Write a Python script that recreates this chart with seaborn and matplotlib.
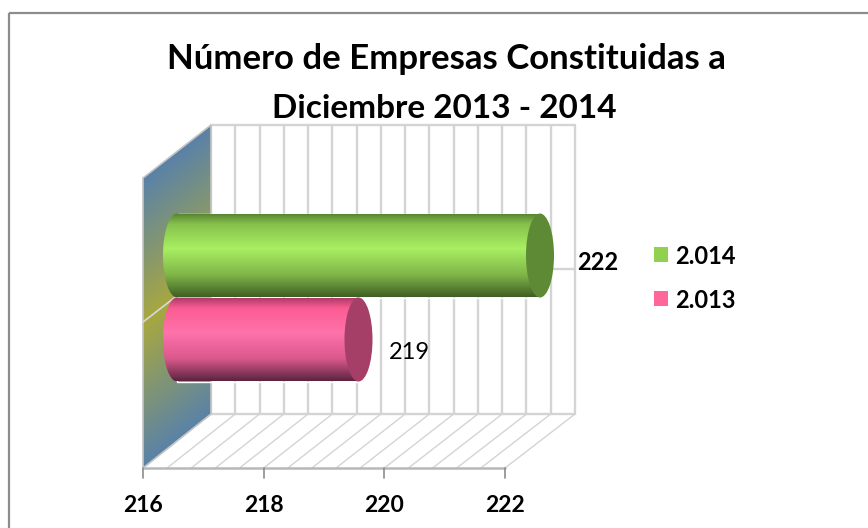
import numpy as np
import pandas as pd
import matplotlib
matplotlib.use("Agg")
import matplotlib.pyplot as plt
import seaborn as sns
from matplotlib.colors import LinearSegmentedColormap
from matplotlib.patches import Ellipse, Polygon, Rectangle

# ── Data ─────────────────────────────────────────────────────────────────────
years = ["2.014", "2.013"]
companies = [222, 219]
label_weights = ["bold", "normal"]
legend_colors = ["#92d050", "#ff6699"]
x_ticks = [216, 218, 220, 222]
title_lines = ["Número de Empresas Constituidas a", "Diciembre 2013 - 2014"]

# Shading of each cylinder, top to bottom, and the colour of its end cap
shade_stops = [0.0, 0.13, 0.42, 0.74, 1.0]
bar_shades = [
    ["#55822f", "#86c14c", "#a9ef62", "#7fb548", "#3f5f24"],
    ["#a83a66", "#fb5c92", "#ff72ab", "#d9588c", "#5c2440"],
]
cap_colors = ["#5f8a35", "#a63f68"]
wall_shades = ["#5a82a8", "#a8a840", "#5a82a8"]

X_MIN = 216
W, H = 868, 528
GRID = "#d4d4d4"

sns.set_theme(style="white")
plt.rcParams["font.family"] = ["Lato", "DejaVu Sans"]

fig = plt.figure(figsize=(W / 100, H / 100), dpi=100)

# Pixel-space layer for the fake 3D box
bg = fig.add_axes([0, 0, 1, 1])
bg.set_xlim(0, W)
bg.set_ylim(H, 0)
bg.axis("off")

# chart frame runs off the right and bottom of the crop
bg.add_patch(Rectangle((9, 13), 880, 540, fill=False, ec="#8c8c8c", lw=1.6))

n_steps = 15
for i in range(n_steps + 1):
    back_x = 211 + i * 364 / n_steps
    front_x = 143 + i * 362 / n_steps
    bg.plot([back_x, back_x], [125, 414], color=GRID, lw=1.7, zorder=1)
    bg.plot([front_x, back_x], [468, 414], color=GRID, lw=1, zorder=1)
bg.plot([211, 575], [125, 125], color=GRID, lw=1.7, zorder=1)
bg.plot([211, 575], [414, 414], color=GRID, lw=1.7, zorder=1)
bg.plot([211, 575], [269, 269], color=GRID, lw=1.7, zorder=1)
bg.plot([143, 505], [468, 468], color="#b8b8b8", lw=1.8, zorder=1)

# Side wall with its diagonal gradient
yy, xx = np.mgrid[120:470, 140:215]
t = (yy + 0.78 * (xx - 143) - 178) / 289
wall_cmap = LinearSegmentedColormap.from_list("wall", wall_shades)
wall_img = bg.imshow(t, extent=[140, 215, 470, 120], cmap=wall_cmap, vmin=0, vmax=1,
                     aspect="auto", zorder=2)
wall = Polygon([(143, 178), (211, 125), (211, 414), (143, 468)], closed=True,
               fc="none", ec="#c4c4c4", lw=1.2, zorder=3)
bg.add_patch(wall)
wall_img.set_clip_path(wall)
bg.plot([143, 178], [322, 295], color="#d8d8d8", lw=1.2, zorder=3)

# X axis ticks on the front edge of the floor
for v in x_ticks:
    tick_x = 143 + (v - X_MIN) * 362 / 6
    bg.plot([tick_x, tick_x], [468, 478], color="#8c8c8c", lw=1.2, zorder=3)
    bg.text(tick_x, 506, str(v), ha="center", va="center", fontsize=16.5,
            fontweight="bold", color="black")

bg.text(446, 59, title_lines[0], ha="center", va="center", fontsize=25,
        fontweight="bold", color="black")
bg.text(444, 108, title_lines[1], ha="center", va="center", fontsize=24,
        fontweight="bold", color="black")

# Legend
for i, (name, col) in enumerate(zip(years, legend_colors)):
    top = 247 + i * 43.5
    bg.add_patch(Rectangle((654, top), 14, 15, fc=col, ec="none"))
    bg.text(675, top + 10, name, ha="left", va="center", fontsize=17,
            fontweight="bold", color="black")
bg.set_xlim(0, W)
bg.set_ylim(H, 0)

# Bars live in value space: 216 sits at 177 px, one unit is 60.5 px, rows are 84 px
PX_PER_UNIT = 60.5
PX_PER_ROW = 84
ax = fig.add_axes([0, 0, 1, 1], facecolor="none")
df = pd.DataFrame({"year": years, "companies": companies})
sns.barplot(data=df, y="year", x="companies", order=years, width=1.0,
            color="#92d050", ax=ax, zorder=4)
ax.axis("off")

x_lim = (X_MIN - 177 / PX_PER_UNIT, X_MIN + (W - 177) / PX_PER_UNIT)
y_lim = ((H - 255.5) / PX_PER_ROW, -255.5 / PX_PER_ROW)
cap_w = 28 / PX_PER_UNIT

for patch, val, shades, cap_col in zip(ax.patches, companies, bar_shades, cap_colors):
    patch.set_x(X_MIN)
    patch.set_width(val - X_MIN)
    patch.set_facecolor("none")
    y0, h = patch.get_y(), patch.get_height()
    yc = y0 + h / 2
    cmap = LinearSegmentedColormap.from_list("bar", list(zip(shade_stops, shades)))
    grad = np.linspace(0, 1, 128).reshape(-1, 1)
    ext = [X_MIN - cap_w, val, y0 + h, y0]
    # left round end, body, then the flat-shaded right cap
    for clip in (Ellipse((X_MIN, yc), cap_w, h, fc="none", ec="none", zorder=4),
                 Rectangle((X_MIN, y0), val - X_MIN, h, fc="none", ec="none", zorder=4)):
        ax.add_patch(clip)
        im = ax.imshow(grad, extent=ext, cmap=cmap, aspect="auto", zorder=4)
        im.set_clip_path(clip)
    ax.add_patch(Ellipse((val, yc), cap_w, h, fc=cap_col, ec="none", zorder=5))

ax.text(companies[0] + 37 / PX_PER_UNIT, 0.08, str(companies[0]), ha="left", va="center",
        fontsize=17, fontweight=label_weights[0], color="black", zorder=6)
ax.text(companies[1] + 30 / PX_PER_UNIT, 1.15, str(companies[1]), ha="left", va="center",
        fontsize=17, fontweight=label_weights[1], color="black", zorder=6)

ax.set_xlim(*x_lim)
ax.set_ylim(*y_lim)

fig.savefig("out.png", dpi=100)
plt.close(fig)
